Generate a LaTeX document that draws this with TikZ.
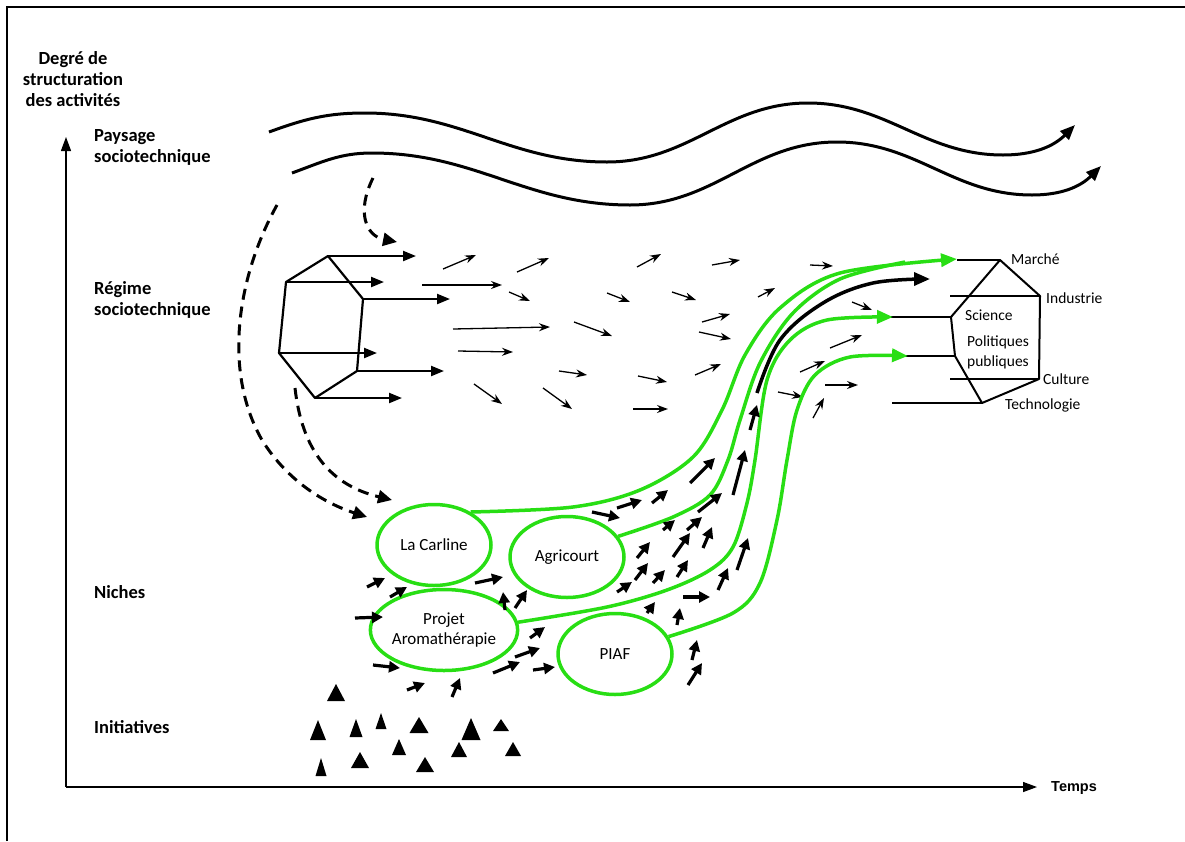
\documentclass[tikz,border=0pt]{standalone}
\usepackage{fontspec}
\setmainfont{Carlito}
\newfontfamily\tempsfont{Liberation Sans}
\usetikzlibrary{arrows.meta, shapes.geometric}
\definecolor{nichegreen}{RGB}{40,222,20}

\begin{document}
\begin{tikzpicture}[x=1pt, y=-1pt,
    axislbl/.style={font=\fontsize{18.5}{21}\selectfont\bfseries, align=left, anchor=west, inner sep=0pt},
    hexlbl/.style={font=\fontsize{15.5}{20}\selectfont, align=left, anchor=west, inner sep=0pt},
    niche/.style={ellipse, draw=nichegreen, line width=3.5pt, minimum width=114pt, minimum height=81pt, inner sep=0pt, align=center, font=\fontsize{17}{20}\selectfont},
    flow/.style={nichegreen, line width=3.5pt, -{Triangle[length=16pt,width=13pt]}},
    wave/.style={line width=3pt, -{Triangle[length=15pt,width=12pt]}},
    dsh/.style={line width=3pt, dash pattern=on 11pt off 7pt, -{Triangle[length=14pt,width=13pt]}},
    thinarr/.style={line width=1.3pt, -{Stealth[length=11pt,width=8pt]}},
    thickarr/.style={line width=3.2pt, -{Triangle[length=11pt,width=11pt]}},
    hexarr/.style={line width=2.2pt, -{Triangle[length=13pt,width=10pt]}}]
  \useasboundingbox (0,0) rectangle (1185,841);
  \draw[line width=2pt] (7,841) -- (7,7) -- (1185,7);

  % axes
  \coordinate (o) at (66,787);
  \draw[line width=1.3pt, -{Triangle[length=14pt,width=10pt]}] (o) -- (66,137);
  \draw[line width=1.3pt, -{Triangle[length=14pt,width=10pt]}] (o) -- (1037,787);
  \node[axislbl, anchor=center, align=center] (ydeg) at (73,79) {Degré de\\structuration\\des activités};
  \node[font=\tempsfont\fontsize{14.5}{17}\selectfont\bfseries, anchor=west, inner sep=0pt] (temps) at (1051,788) {Temps};
  \node[axislbl] (paysage) at (94,147) {Paysage\\sociotechnique};
  \node[axislbl] (regime) at (94,300) {Régime\\sociotechnique};
  \node[axislbl] (niches) at (94,592) {Niches};
  \node[axislbl] (initiatives) at (94,727) {Initiatives};

  % paysage
  \draw[wave] (269,132) to[out=20,in=180] (365,113) to[out=0,in=180] (607,162) to[out=0,in=180] (808,103) to[out=0,in=180] (1003,155) to[out=0,in=225] (1075,125);
  \draw[wave] (292,173) to[out=20,in=180] (372,153) to[out=0,in=180] (630,205) to[out=0,in=180] (837,142) to[out=0,in=180] (1032,195) to[out=0,in=225] (1101,166);
  \draw[dsh] (277,205) .. controls (238,275) and (222,370) .. (262,440) .. controls (290,485) and (330,505) .. (367,517);
  \draw[dsh] (295,388) .. controls (302,450) and (330,485) .. (392,500);
  \draw[dsh] (373,178) .. controls (356,212) and (366,236) .. (397,242);

  % regime
  \coordinate (rt) at (328,256);
  \coordinate (rul) at (286,282);
  \coordinate (rl) at (279,353);
  \coordinate (rb) at (315,398);
  \coordinate (rlr) at (357,371);
  \coordinate (rr) at (363,299);
  \draw[line width=2.2pt, line join=round] (rt) -- (rul) -- (rl) -- (rb) -- (rlr) -- (rr) -- cycle;
  \draw[hexarr] (rt) -- (416,256);
  \draw[hexarr] (rul) -- (384,282);
  \draw[hexarr] (rr) -- (450,299);
  \draw[hexarr] (rl) -- (377,353);
  \draw[hexarr] (rlr) -- (444,371);
  \draw[hexarr] (rb) -- (402,398);
  \foreach \xa/\ya/\xb/\yb in {443/269/476/255, 517/272/549/258, 637/267/661/254, 712/265/740/260,
      810/265/833/266, 422/285/502/285, 509/292/530/301, 607/293/630/302, 672/292/696/300,
      758/297/775/288, 852/302/872/310, 453/329/550/327, 574/322/612/336, 702/322/730/314,
      699/332/731/339, 830/348/862/335, 458/351/513/352, 559/371/587/375, 638/376/667/382,
      695/375/721/364, 800/372/825/361, 778/392/803/397, 825/385/858/385, 474/384/502/404,
      543/388/572/409, 633/409/668/409, 813/418/824/398}
    \draw[thinarr] (\xa,\ya) -- (\xb,\yb);

  % new regime
  \coordinate (mk) at (1000,260);
  \coordinate (ind) at (1040,296);
  \coordinate (cul) at (1039,379);
  \coordinate (tec) at (982,403);
  \coordinate (pol) at (955,356);
  \coordinate (sci) at (951,317);
  \draw[line width=2pt, line join=round] (mk) -- (ind) -- (cul) -- (tec) -- (pol) -- (sci) -- cycle;
  \draw[line width=2pt] (957,260) -- (mk);
  \draw[line width=2pt] (950,296) -- (ind);
  \draw[line width=2pt] (860,317) -- (sci);
  \draw[line width=2pt] (867,356) -- (pol);
  \draw[line width=2pt] (950,379) -- (cul);
  \draw[line width=2pt] (892,403) -- (tec);
  \node[hexlbl] (marche) at (1011,259) {Marché};
  \node[hexlbl] (industrie) at (1046,298) {Industrie};
  \node[hexlbl] (science) at (965,315) {Science};
  \node[hexlbl] (politiques) at (967,352) {Politiques\\publiques};
  \node[hexlbl] (culture) at (1043,379) {Culture};
  \node[hexlbl] (technologie) at (1005,405) {Technologie};

  % niches
  \node[niche] (carline) at (434,545) {La Carline};
  \node[niche] (agricourt) at (567,557) {Agricourt};
  \node[niche] (arom) at (444,630) {Projet\\Aromathérapie};
  \node[niche] (piaf) at (615,654) {PIAF};

  \draw[flow] plot[smooth, tension=0.55] coordinates {(carline.42) (573,507) (640,490) (693,457) (722,410) (745,355) (780,308) (840,273) (957,259)};
  \draw[flow, -] plot[smooth, tension=0.55] coordinates {(agricourt.22) (673,517) (710,495) (728,460) (740,420) (760,363) (793,313) (840,279) (905,262)};
  \draw[flow] plot[smooth, tension=0.55] coordinates {(arom.6) (607,607) (667,590) (710,570) (733,547) (747,503) (755,460) (767,380) (790,340) (827,320) (893,317)};
  \draw[flow] plot[smooth, tension=0.55] coordinates {(piaf.18) (733,613) (760,583) (777,520) (787,460) (797,410) (815,375) (850,357) (908,356)};
  \draw[line width=3.5pt, -{Triangle[length=16pt,width=13pt]}] plot[smooth, tension=0.6] coordinates {(757,393) (780,340) (823,303) (873,283) (930,279)};

  \foreach \xa/\ya/\xb/\yb in {367/587/385/578, 390/597/407/587, 355/618/383/617, 373/665/400/668,
      407/690/425/683, 452/697/460/678, 475/583/503/577, 505/610/503/592, 515/608/527/590,
      530/638/545/627, 493/673/520/662, 515/657/540/648, 533/670/555/667, 592/512/620/518,
      617/508/642/500, 652/503/668/490, 690/483/715/458, 617/592/632/582, 637/558/650/542,
      635/580/648/563, 653/583/665/570, 663/530/675/520, 673/557/690/533, 687/530/702/517,
      698/512/722/493, 703/548/712/527, 677/577/688/560, 733/495/745/450, 750/430/757/405,
      647/613/655/602, 677/625/680/608, 683/597/710/597, 718/590/728/568, 737/570/748/538,
      692/660/697/640, 688/685/702/663}
    \draw[thickarr] (\xa,\ya) -- (\xb,\yb);

  % initiatives
  \foreach \x/\y/\w/\h in {336/701/18/17, 318/740/16/20, 356/737/13/18, 381/729/11/16,
      419/733/19/16, 471/740/19/22, 501/731/16/12, 399/755/14/16, 459/757/16/15,
      513/756/16/14, 360/768/18/16, 321/776/11/18, 425/772/18/15}
    \fill ({\x-\w/2},\y) -- (\x,{\y-\h}) -- ({\x+\w/2},\y) -- cycle;
\end{tikzpicture}
\end{document}
